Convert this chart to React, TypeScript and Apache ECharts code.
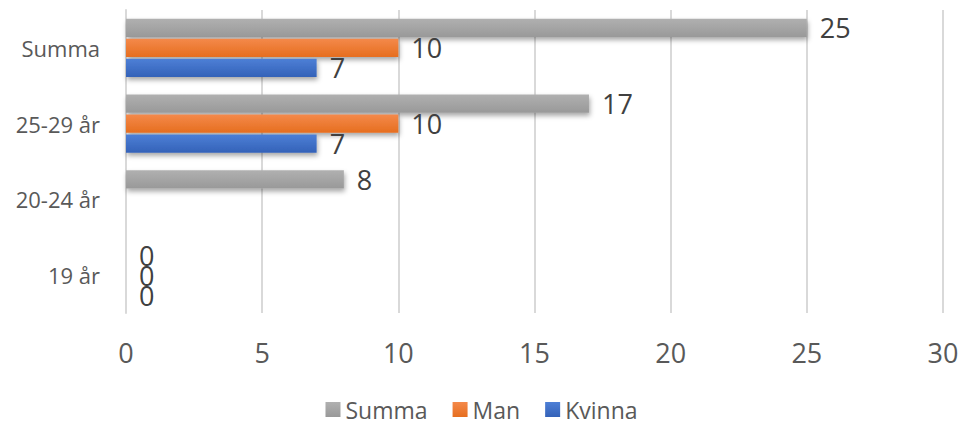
import React, { useEffect, useRef } from "react";
import * as echarts from "echarts";

const categories = ["19 år", "20-24 år", "25-29 år", "Summa"];
const kvinna: (number | null)[] = [0, null, 7, 7];
const man: (number | null)[] = [0, null, 10, 10];
const summa: (number | null)[] = [0, 8, 17, 25];
const legendOrder = ["Summa", "Man", "Kvinna"];
const xTicks = { min: 0, max: 30, interval: 5 };

const FONT = "'Open Sans', 'Noto Sans', sans-serif";

function grad(light: string, dark: string) {
  return new echarts.graphic.LinearGradient(0, 0, 0, 1, [
    { offset: 0, color: light },
    { offset: 1, color: dark },
  ]);
}

export default function App() {
  const ref = useRef<HTMLDivElement>(null);
  useEffect(() => {
    document.body.style.margin = "0";
    if (!ref.current) return;
    const chart = echarts.init(ref.current, undefined, { renderer: "svg" });
    const label = {
      show: true,
      position: "right",
      distance: 13,
      fontSize: 27,
      fontFamily: FONT,
      color: "#404040",
    };
    const shadow = {
      shadowBlur: 5,
      shadowOffsetX: 1,
      shadowOffsetY: 3,
      shadowColor: "rgba(0,0,0,0.35)",
    };
    const common = { type: "bar", barCategoryGap: "23%", barGap: "10%", label };
    chart.setOption({
      animation: false,
      grid: { left: 126, right: 20, top: 10, bottom: 112, containLabel: false },
      legend: {
        data: legendOrder,
        bottom: -1,
        left: "center",
        itemWidth: 15,
        itemHeight: 15,
        itemGap: 25,
        icon: "rect",
        textStyle: { fontSize: 23, fontFamily: FONT, color: "#595959" },
      },
      xAxis: {
        type: "value",
        min: xTicks.min,
        max: xTicks.max,
        interval: xTicks.interval,
        axisLine: { show: false },
        axisTick: { show: false },
        splitLine: { show: true, lineStyle: { color: "#d9d9d9", width: 2 } },
        axisLabel: { fontSize: 27, fontFamily: FONT, color: "#595959", margin: 26 },
      },
      yAxis: {
        type: "category",
        data: categories,
        axisLine: { show: true, lineStyle: { color: "#d9d9d9", width: 2 } },
        axisTick: { show: false },
        axisLabel: { fontSize: 22, fontFamily: FONT, color: "#595959", margin: 26 },
      },
      series: [
        {
          ...common,
          name: "Summa",
          data: summa,
          itemStyle: { color: grad("#b0b0b0", "#999999"), ...shadow },
        },
        {
          ...common,
          name: "Man",
          data: man,
          itemStyle: { color: grad("#f4894a", "#e66e1f"), ...shadow },
        },
        {
          ...common,
          name: "Kvinna",
          data: kvinna,
          itemStyle: { color: grad("#4d7fd6", "#3462b8"), ...shadow },
        },
      ],
    });
    return () => chart.dispose();
  }, []);
  return <div ref={ref} style={{ width: 963, height: 425 }} />;
}
